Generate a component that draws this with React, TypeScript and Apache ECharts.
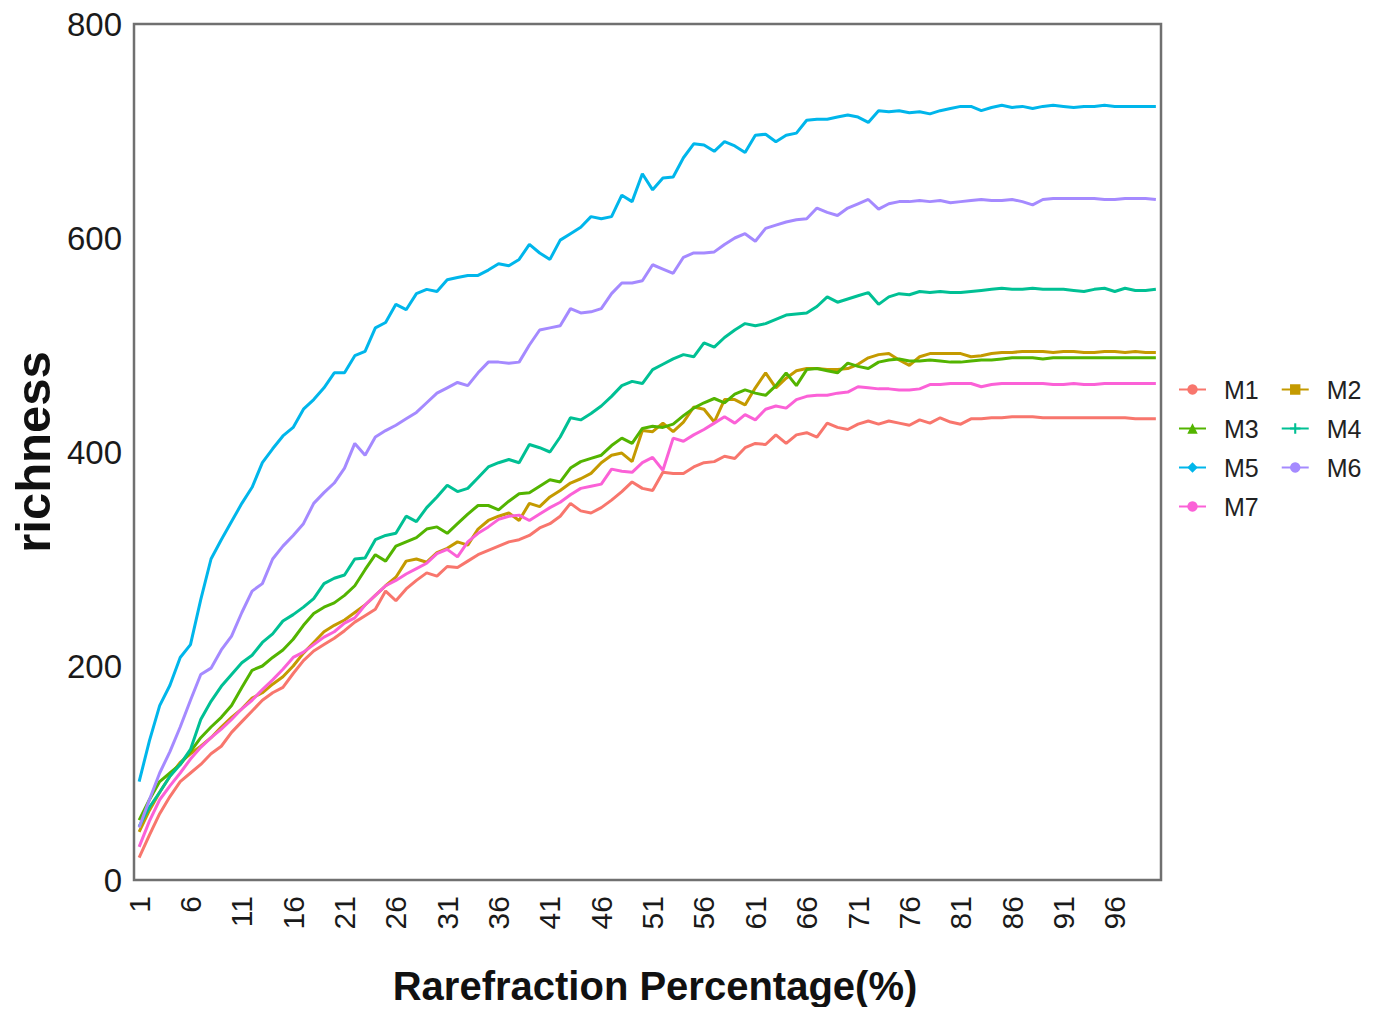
import React, { useEffect, useRef } from "react";
import * as echarts from "echarts";

const categories: string[] = Array.from({ length: 100 }, (_, i) => String(i + 1));
const yTicks = [0, 200, 400, 600, 800];
const seriesNames = ["M1", "M2", "M3", "M4", "M5", "M6", "M7"];

const M1 = [
  21, 42, 62, 78, 92, 100, 108, 118, 125, 138,
  148, 158, 168, 175, 180, 193, 205, 214, 220, 226,
  233, 241, 247, 253, 270, 261, 272, 280, 287, 284,
  293, 292, 298, 304, 308, 312, 316, 318, 322, 329,
  333, 340, 352, 345, 343, 348, 355, 363, 372, 366,
  364, 381, 380, 380, 386, 390, 391, 396, 394, 404,
  408, 407, 416, 408, 416, 418, 414, 427, 423, 421,
  426, 429, 426, 429, 427, 425, 430, 427, 432, 428,
  426, 431, 431, 432, 432, 433, 433, 433, 432, 432,
  432, 432, 432, 432, 432, 432, 432, 431, 431, 431,
];
const M2 = [
  45, 65, 82, 97, 110, 118, 125, 133, 143, 152,
  160, 170, 175, 183, 190, 200, 212, 222, 232, 238,
  243, 250, 257, 266, 275, 283, 298, 300, 297, 306,
  310, 316, 313, 328, 336, 340, 343, 336, 352, 349,
  358, 364, 371, 375, 380, 390, 397, 399, 391, 420,
  419, 427, 419, 428, 442, 440, 428, 449, 449, 444,
  460, 474, 460, 469, 476, 478, 478, 477, 477, 478,
  482, 488, 491, 492, 486, 481, 489, 492, 492, 492,
  492, 489, 490, 492, 493, 493, 494, 494, 494, 493,
  494, 494, 493, 493, 494, 494, 493, 494, 493, 493,
];
const M3 = [
  56, 75, 92, 100, 108, 120, 133, 143, 152, 163,
  180, 196, 200, 208, 215, 225, 238, 249, 255, 259,
  266, 275, 290, 304, 298, 312, 316, 320, 328, 330,
  324, 333, 342, 350, 350, 346, 354, 361, 362, 368,
  374, 372, 385, 391, 394, 397, 406, 413, 408, 422,
  424, 423, 426, 434, 441, 446, 450, 446, 454, 458,
  455, 453, 462, 474, 462, 477, 478, 476, 474, 483,
  480, 478, 484, 486, 487, 485, 485, 486, 485, 484,
  484, 485, 486, 486, 487, 488, 488, 488, 487, 488,
  488, 488, 488, 488, 488, 488, 488, 488, 488, 488,
];
const M4 = [
  50, 68, 82, 97, 108, 122, 150, 167, 181, 192,
  203, 210, 222, 230, 242, 248, 255, 263, 277, 282,
  285, 300, 301, 318, 322, 324, 340, 335, 348, 358,
  369, 363, 366, 376, 386, 390, 393, 390, 407, 404,
  400, 414, 432, 430, 436, 443, 452, 462, 466, 464,
  477, 482, 487, 491, 489, 502, 498, 507, 514, 520,
  518, 520, 524, 528, 529, 530, 536, 545, 540, 543,
  546, 549, 538, 545, 548, 547, 550, 549, 550, 549,
  549, 550, 551, 552, 553, 552, 552, 553, 552, 552,
  552, 551, 550, 552, 553, 550, 553, 551, 551, 552,
];
const M5 = [
  92, 130, 163, 182, 208, 220, 262, 300, 318, 335,
  352, 367, 390, 403, 415, 423, 440, 449, 460, 474,
  474, 490, 494, 516, 521, 538, 533, 548, 552, 550,
  561, 563, 565, 565, 570, 576, 574, 580, 594, 586,
  580, 598, 604, 610, 620, 618, 620, 640, 634, 660,
  645, 656, 657, 675, 688, 687, 681, 690, 686, 680,
  696, 697, 690, 696, 698, 710, 711, 711, 713, 715,
  713, 708, 719, 718, 719, 717, 718, 716, 719, 721,
  723, 723, 719, 722, 724, 722, 723, 721, 723, 724,
  723, 722, 723, 723, 724, 723, 723, 723, 723, 723,
];
const M6 = [
  49, 75, 100, 120, 143, 168, 192, 198, 215, 228,
  250, 270, 277, 300, 312, 322, 333, 352, 362, 371,
  385, 408, 397, 414, 420, 425, 431, 437, 446, 455,
  460, 465, 462, 474, 484, 484, 483, 484, 500, 514,
  516, 518, 534, 530, 531, 534, 548, 558, 558, 560,
  575, 571, 567, 582, 586, 586, 587, 594, 600, 604,
  597, 609, 612, 615, 617, 618, 628, 624, 621, 628,
  632, 636, 627, 632, 634, 634, 635, 634, 635, 633,
  634, 635, 636, 635, 635, 636, 634, 631, 636, 637,
  637, 637, 637, 637, 636, 636, 637, 637, 637, 636,
];
const M7 = [
  31, 55, 75, 88, 100, 113, 124, 133, 141, 150,
  160, 168, 178, 187, 197, 208, 213, 220, 227, 232,
  240, 245, 257, 266, 275, 280, 286, 291, 296, 305,
  309, 302, 316, 324, 330, 337, 340, 341, 336, 342,
  348, 353, 360, 366, 368, 370, 384, 382, 381, 390,
  395, 383, 413, 410, 416, 421, 427, 433, 427, 435,
  430, 440, 443, 441, 449, 452, 453, 453, 455, 456,
  461, 460, 459, 459, 458, 458, 459, 463, 463, 464,
  464, 464, 461, 463, 464, 464, 464, 464, 464, 463,
  463, 464, 463, 463, 464, 464, 464, 464, 464, 464,
];

const seriesData = [M1, M2, M3, M4, M5, M6, M7];
const colors = ["#F8766D", "#C49A00", "#53B400", "#00C094", "#00B6EB", "#A58AFF", "#FB61D7"];
const symbols = [
  "circle",
  "rect",
  "triangle",
  "path://M4,0L6,0L6,4L10,4L10,6L6,6L6,10L4,10L4,6L0,6L0,4L4,4Z",
  "diamond",
  "circle",
  "circle",
];
const legendRows = [["M1", "M2"], ["M3", "M4"], ["M5", "M6"], ["M7"]];

const FONT = "'Liberation Sans', Arial, sans-serif";

export default function App() {
  const ref = useRef<HTMLDivElement>(null);
  useEffect(() => {
    if (!ref.current) return;
    const chart = echarts.init(ref.current, undefined, { renderer: "svg" });
    const rowCenters = [390, 429, 468, 507];
    chart.setOption({
      animation: false,
      backgroundColor: "#ffffff",
      grid: {
        left: 134,
        top: 24,
        right: 224,
        bottom: 135,
        show: true,
        borderColor: "#707070",
        borderWidth: 2.5,
        backgroundColor: "transparent",
      },
      legend: legendRows.map((row, i) => ({
        data: row,
        left: 1173,
        top: rowCenters[i] - 18,
        orient: "horizontal",
        itemWidth: 27,
        itemHeight: 13,
        itemGap: 22,
        textStyle: {
          fontSize: 25,
          color: "#222",
          fontFamily: FONT,
          padding: [0, 0, 0, 13],
        },
      })),
      xAxis: {
        type: "category",
        data: categories,
        boundaryGap: true,
        axisLine: { show: false },
        axisTick: { show: false },
        splitLine: { show: false },
        axisLabel: {
          interval: 4,
          rotate: 90,
          fontSize: 30,
          color: "#1a1a1a",
          margin: 16,
          fontFamily: FONT,
        },
      },
      yAxis: {
        type: "value",
        min: yTicks[0],
        max: yTicks[yTicks.length - 1],
        interval: 200,
        axisLine: { show: false },
        axisTick: { show: false },
        splitLine: { show: false },
        axisLabel: {
          fontSize: 33,
          color: "#1a1a1a",
          margin: 12,
          fontFamily: FONT,
        },
      },
      graphic: [
        {
          type: "text",
          x: 33,
          y: 452,
          rotation: Math.PI / 2,
          style: {
            text: "richness",
            fontSize: 49,
            fontWeight: "bold",
            fill: "#111",
            fontFamily: FONT,
            textAlign: "center",
            textVerticalAlign: "middle",
          },
        },
        {
          type: "text",
          x: 655,
          y: 986,
          style: {
            text: "Rarefraction Percentage(%)",
            fontSize: 40,
            fontWeight: "bold",
            fill: "#111",
            fontFamily: FONT,
            textAlign: "center",
            textVerticalAlign: "middle",
          },
        },
      ],
      series: seriesNames.map((name, i) => ({
        name,
        type: "line",
        data: seriesData[i],
        symbol: symbols[i],
        symbolSize: 10,
        showSymbol: false,
        lineStyle: { width: 3, color: colors[i] },
        itemStyle: { color: colors[i] },
        emphasis: { disabled: true },
      })),
    });
    return () => chart.dispose();
  }, []);
  return <div ref={ref} style={{ width: 1385, height: 1015, margin: -8 }} />;
}
